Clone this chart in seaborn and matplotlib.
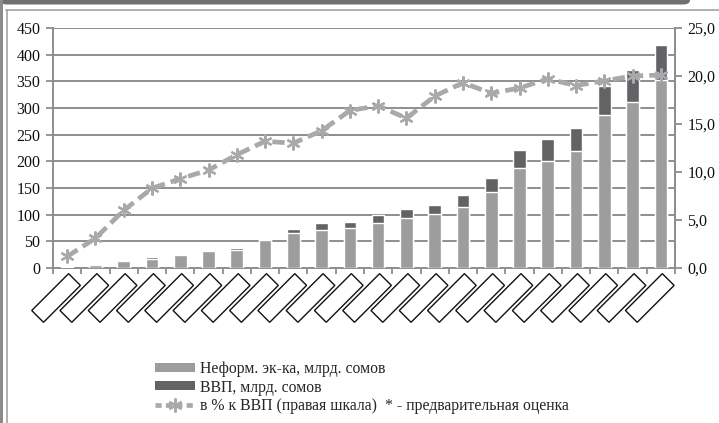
import numpy as np
import pandas as pd
import matplotlib
matplotlib.use("Agg")
import matplotlib.pyplot as plt
import matplotlib.transforms as mtransforms
from matplotlib.patches import Patch, Rectangle, FancyBboxPatch
from matplotlib.lines import Line2D
import seaborn as sns

# ---- data ----
categories = [" " * 13 + "\u200b" * i for i in range(22)]  # blank (boxed) category labels
gdp = [2, 7.5, 15, 20, 26, 34, 38, 55, 73, 84, 87, 100, 111, 119, 136, 169,
       222, 241, 262, 341, 372, 418]
informal = [1.5, 6, 13, 17, 24, 31, 34, 53, 66, 72, 75, 85, 94, 101, 115, 142,
            187, 201, 219, 286, 311, 352]
share_pct = [1.2, 3.1, 6.0, 8.3, 9.3, 10.2, 11.8, 13.2, 13.0, 14.3, 16.4, 16.9,
             15.6, 17.9, 19.3, 18.2, 18.75, 19.7, 19.0, 19.5, 20.0, 20.1]
left_ticks = [0, 50, 100, 150, 200, 250, 300, 350, 400, 450]
right_ticks = [0, 5, 10, 15, 20, 25]
labels = ["Неформ. эк-ка, млрд. сомов", "ВВП, млрд. сомов",
          "в % к ВВП (правая шкала)  * - предварительная оценка"]

light = "#9d9d9f"
dark = "#636365"
line_c = "#a9a9ab"
grid_c = "#8e8e90"

sns.set_theme(style="white")
plt.rcParams["font.family"] = ["Liberation Serif", "DejaVu Serif"]

W, H = 719, 423
fig = plt.figure(figsize=(W / 100, H / 100), dpi=100)
ax = fig.add_axes([53 / W, 1 - 268 / H, (675 - 53) / W, (268 - 28) / H])

df = pd.DataFrame({"cat": categories, "gdp": gdp, "inf": informal})
sns.barplot(data=df, x="cat", y="gdp", color=dark, saturation=1, width=0.45,
            ax=ax, zorder=3)
sns.barplot(data=df, x="cat", y="inf", color=light, saturation=1, width=0.45,
            ax=ax, zorder=3)

n = len(categories)
ax.set_xlim(-0.5, n - 0.5)
ax.set_ylim(0, 450)
ax.set_yticks(left_ticks)
ax.set_yticklabels([str(v) for v in left_ticks], fontsize=11.5)
ax.set_xlabel("")
ax.set_ylabel("")
ax.grid(axis="y", color=grid_c, linewidth=1.4, zorder=0)
ax.set_axisbelow(True)
for s in ["left", "bottom", "right"]:
    ax.spines[s].set_color(grid_c)
    ax.spines[s].set_linewidth(1.4)
ax.spines["top"].set_visible(False)
ax.tick_params(axis="y", left=True, length=5, width=1.3, color=grid_c,
               pad=4, labelcolor="#111111")

# x ticks: labels at centres (boxes), marks at category boundaries
ax.set_xticks(np.arange(n))
ax.set_xticklabels(categories)
ax.set_xticks(np.arange(-0.5, n, 1.0), minor=True)
ax.tick_params(axis="x", which="major", length=0, pad=10)
ax.tick_params(axis="x", which="minor", bottom=True, length=4, width=1.3,
               color=grid_c)
off = mtransforms.ScaledTranslation(5 / 100, 0, fig.dpi_scale_trans)
for lab in ax.get_xticklabels():
    lab.set_rotation(45)
    lab.set_rotation_mode("anchor")
    lab.set_ha("right")
    lab.set_va("center")
    lab.set_fontsize(8)
    lab.set_family("DejaVu Sans")
    lab.set_bbox(dict(boxstyle="square,pad=0.3", facecolor="white",
                      edgecolor="#111111", linewidth=1.0))
    lab.set_transform(lab.get_transform() + off)

# right axis: share of GDP
ax2 = ax.twinx()
sns.lineplot(x=np.arange(n), y=share_pct, ax=ax2, color=line_c, linewidth=3.4,
             linestyle=(0, (2.6, 1.3)), marker=(6, 2, 0), markersize=10,
             markeredgecolor=line_c, markeredgewidth=1.6, zorder=5)
ax2.set_ylim(0, 25)
ax2.set_xlim(-0.5, n - 0.5)
ax2.set_yticks(right_ticks)
ax2.set_yticklabels([f"{v:.1f}".replace(".", ",") for v in right_ticks],
                    fontsize=11.5)
ax2.tick_params(axis="y", right=True, length=5, width=1.3, color=grid_c,
                pad=4, labelcolor="#111111")
for s in ["left", "top", "bottom"]:
    ax2.spines[s].set_visible(False)
ax2.spines["right"].set_color(grid_c)
ax2.spines["right"].set_linewidth(1.4)
ax2.grid(False)

# legend
handles = [Patch(facecolor=light, edgecolor="none"),
           Patch(facecolor=dark, edgecolor="none"),
           Line2D([], [], color=line_c, linewidth=3.4, linestyle=(0, (1.3, 0.9)),
                  marker=(6, 2, 0), markersize=10, markeredgecolor=line_c,
                  markeredgewidth=1.6)]
fig.legend(handles, labels, loc="upper left",
           bbox_to_anchor=(155 / W, 1 - 361 / H), frameon=False, fontsize=11.3,
           handlelength=2.55, handleheight=0.5, handletextpad=0.3,
           labelspacing=0.16, borderpad=0, borderaxespad=0)

# page decoration (frame)
fig.add_artist(FancyBboxPatch((0, 1 - 4.5 / H), 690 / W, 12 / H,
                              boxstyle="round,pad=0,rounding_size=0.01",
                              transform=fig.transFigure, facecolor="#707072",
                              edgecolor="none", zorder=0))
fig.add_artist(Line2D([6 / W, 1], [1 - 10 / H, 1 - 10 / H],
                      transform=fig.transFigure, color="#a3a3a5", linewidth=1.2))
fig.add_artist(Line2D([7 / W, 7 / W], [0, 1 - 10 / H],
                      transform=fig.transFigure, color="#a3a3a5", linewidth=1.2))
fig.add_artist(Rectangle((0, 0), 3 / W, 1, transform=fig.transFigure,
                         facecolor="#8a8a8c", edgecolor="none"))

fig.savefig("out.png", dpi=100)
